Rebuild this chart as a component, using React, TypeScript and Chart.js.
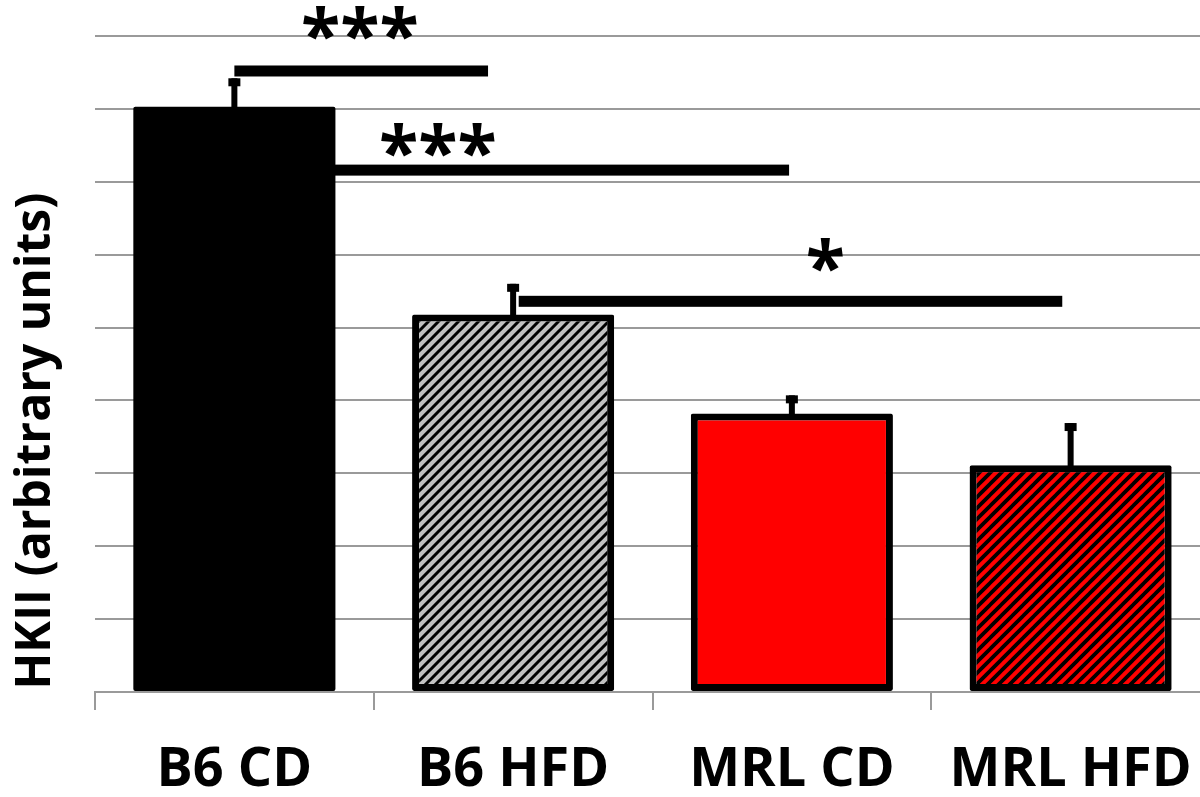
import React, { useEffect, useRef } from 'react';
import { Chart, registerables } from 'chart.js';

Chart.register(...registerables);

// ---- data ----
const categories = ['B6 CD', 'B6 HFD', 'MRL CD', 'MRL HFD'];
const means = [8.03, 5.18, 3.82, 3.11];
const errors = [0.39, 0.42, 0.25, 0.58];
const yTickValues = [0, 1, 2, 3, 4, 5, 6, 7, 8, 9];
const yTitle = 'HKII (arbitrary units)';

// significance brackets (in category index units / y units)
const sigFrom = [0.0, 0.36, 1.02];
const sigTo = [0.91, 1.99, 2.97];
const sigLevel = [8.52, 7.16, 5.36];
const sigLabels = ['***', '***', '*'];
const sigLabelX = [0.45, 0.73, 2.12];
const sigLabelY = [9.18, 7.57, 6.0];

const FONT = '"Open Sans", "DejaVu Sans", sans-serif';

function makeHatch(bg: string, line: string, size: number, lw: number) {
  const c = document.createElement('canvas');
  c.width = size;
  c.height = size;
  const g = c.getContext('2d') as CanvasRenderingContext2D;
  g.fillStyle = bg;
  g.fillRect(0, 0, size, size);
  g.strokeStyle = line;
  g.lineWidth = lw;
  g.lineCap = 'square';
  g.beginPath();
  for (let k = -1; k <= 1; k++) {
    g.moveTo(k * size, size);
    g.lineTo(k * size + size, 0);
  }
  g.stroke();
  return g.createPattern(c, 'repeat') as CanvasPattern;
}

const overlayPlugin = {
  id: 'overlay',
  afterDatasetsDraw(chart: any) {
    const ctx: CanvasRenderingContext2D = chart.ctx;
    const xs = chart.scales.x;
    const ys = chart.scales.y;
    const meta = chart.getDatasetMeta(0);
    ctx.save();
    ctx.fillStyle = '#000';
    // error bars
    meta.data.forEach((bar: any, i: number) => {
      const top = ys.getPixelForValue(means[i] + errors[i]);
      const base = ys.getPixelForValue(means[i]);
      ctx.fillRect(bar.x - 3, top, 6, base - top + 2);
      ctx.fillRect(bar.x - 6, top, 12, 8);
    });
    // significance lines
    for (let i = 0; i < sigFrom.length; i++) {
      const x1 = xs.getPixelForValue(sigFrom[i]);
      const x2 = xs.getPixelForValue(sigTo[i]);
      const yc = ys.getPixelForValue(sigLevel[i]);
      ctx.fillRect(x1, yc - 5.5, x2 - x1, 11);
    }
    // significance labels
    ctx.font = `bold 72px ${FONT}`;
    ctx.textAlign = 'center';
    ctx.textBaseline = 'alphabetic';
    for (let i = 0; i < sigLabels.length; i++) {
      const m = ctx.measureText(sigLabels[i]);
      const cx = xs.getPixelForValue(sigLabelX[i]);
      const cy = ys.getPixelForValue(sigLabelY[i]);
      const y = cy + (m.actualBoundingBoxAscent - m.actualBoundingBoxDescent) / 2;
      ctx.fillText(sigLabels[i], cx, y);
    }
    ctx.restore();
  },
  afterDraw(chart: any) {
    const ctx: CanvasRenderingContext2D = chart.ctx;
    const ys = chart.scales.y;
    ctx.save();
    ctx.font = `bold 48px ${FONT}`;
    ctx.fillStyle = '#000';
    ctx.textAlign = 'center';
    ctx.textBaseline = 'alphabetic';
    const cy = (ys.getPixelForValue(0) + ys.getPixelForValue(9)) / 2 + 77;
    ctx.translate(50, cy);
    ctx.rotate(-Math.PI / 2);
    ctx.fillText(yTitle, 0, 0);
    ctx.restore();
  },
};

export default function App() {
  const ref = useRef<HTMLCanvasElement | null>(null);

  useEffect(() => {
    let chart: Chart | null = null;
    let cancelled = false;
    const build = () => {
      if (cancelled || !ref.current) return;
      const grayHatch = makeHatch('#c0c0c0', '#000', 10, 3);
      const redHatch = makeHatch('#ff0000', '#000', 11, 3.8);
      chart = new Chart(ref.current, {
        type: 'bar',
        data: {
          labels: categories,
          datasets: [
            {
              data: means,
              backgroundColor: ['#000000', grayHatch, '#ff0000', redHatch] as any,
              borderColor: '#000',
              borderWidth: [0, 7, 7, 7] as any,
              borderRadius: 2,
              borderSkipped: false,
              barPercentage: 0.725,
              categoryPercentage: 1,
            },
          ],
        },
        options: {
          responsive: false,
          animation: false,
          events: [],
          layout: { padding: { top: 36, left: 0, right: 0, bottom: 0 } },
          plugins: { legend: { display: false }, tooltip: { enabled: false } },
          scales: {
            x: {
              offset: true,
              afterFit: (scale: any) => {
                scale.height = 105;
                scale.paddingRight = 0;
                scale.paddingLeft = 0;
              },
              grid: {
                offset: true,
                drawOnChartArea: false,
                drawTicks: true,
                tickLength: 18,
                color: '#9a9a9a',
                lineWidth: 2,
              },
              border: { display: true, color: '#9a9a9a', width: 2 },
              ticks: {
                color: '#000',
                padding: 28,
                font: { family: FONT, weight: 'bold', size: 54 },
                maxRotation: 0,
                autoSkip: false,
              },
            },
            y: {
              min: yTickValues[0],
              max: yTickValues[yTickValues.length - 1],
              afterBuildTicks: (scale: any) => {
                scale.ticks = yTickValues.map((v) => ({ value: v }));
              },
              afterFit: (scale: any) => {
                scale.width = 95;
              },
              grid: { color: '#9a9a9a', lineWidth: 2, drawTicks: false },
              border: { display: false },
              ticks: { display: false },
            },
          },
        },
        plugins: [overlayPlugin],
      });
    };
    const fontsReady = (document as any).fonts
      ? Promise.all([
          (document as any).fonts.load(`bold 54px "Open Sans"`),
          (document as any).fonts.load(`bold 48px "Open Sans"`),
        ]).catch(() => null)
      : Promise.resolve(null);
    fontsReady.then(build);
    return () => {
      cancelled = true;
      if (chart) chart.destroy();
    };
  }, []);

  return (
    <div
      style={{
        position: 'fixed',
        left: 0,
        top: 0,
        width: 1200,
        height: 797,
        overflow: 'hidden',
        background: '#fff',
      }}
    >
      <canvas ref={ref} width={1210} height={797} style={{ display: 'block' }} />
    </div>
  );
}
